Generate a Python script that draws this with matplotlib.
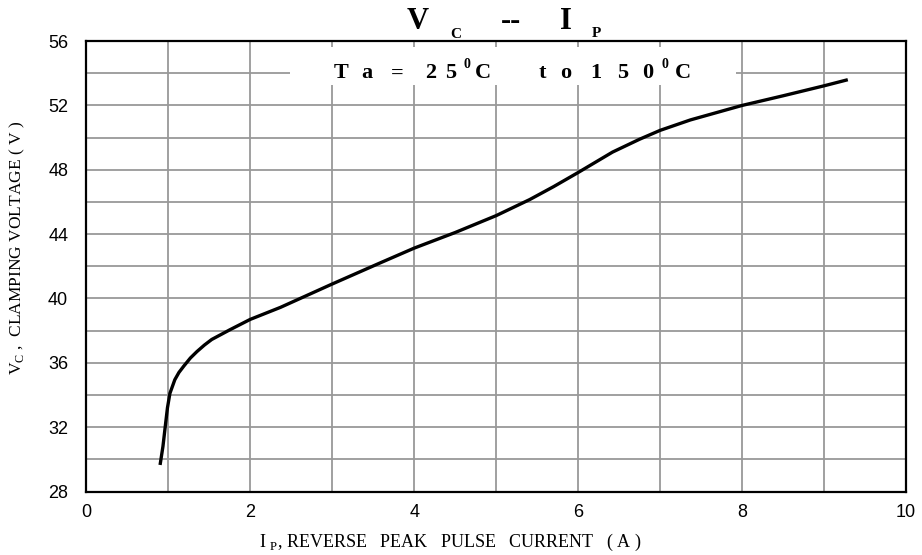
import matplotlib
matplotlib.use('Agg')
import matplotlib.pyplot as plt
from matplotlib.patches import Rectangle

# данные кривой
ip = [0.90, 0.935, 0.96, 0.99, 1.02, 1.08, 1.13, 1.19, 1.27, 1.35, 1.44, 1.53,
      1.75, 2.0, 2.37, 3.0, 3.58, 4.0, 4.5, 5.0, 5.41, 5.7, 6.0, 6.42, 6.75,
      7.0, 7.37, 8.0, 8.5, 9.0, 9.29]
vc = [29.65, 30.8, 31.9, 33.2, 34.1, 34.95, 35.4, 35.8, 36.3, 36.7, 37.1, 37.45,
      38.05, 38.7, 39.45, 40.9, 42.2, 43.13, 44.1, 45.15, 46.15, 46.95, 47.83,
      49.1, 49.9, 50.45, 51.1, 52.0, 52.6, 53.22, 53.6]

x_ticks = [0, 2, 4, 6, 8, 10]
y_ticks = [28, 32, 36, 40, 44, 48, 52, 56]
x_grid = [1, 2, 3, 4, 5, 6, 7, 8, 9]
y_grid = [30, 32, 34, 36, 38, 40, 42, 44, 46, 48, 50, 52, 54]

plt.rcParams['mathtext.fontset'] = 'custom'
plt.rcParams['mathtext.rm'] = 'Liberation Serif'
plt.rcParams['mathtext.bf'] = 'Liberation Serif:bold'

W, H = 922, 555
fig = plt.figure(figsize=(W / 100, H / 100), dpi=100)
ax = fig.add_axes([86.3 / W, 1 - 491.5 / H, (906 - 86.3) / W, (491.5 - 41.1) / H])

# сетка
for xv in x_grid:
    ax.axvline(xv, color='#999999', lw=1.3, zorder=0.5)
for yv in y_grid:
    ax.axhline(yv, color='#999999', lw=1.3, zorder=0.5)

# белая подложка под подписью
ax.add_patch(Rectangle((2.48, 53.25), 5.45, 2.38, facecolor='white',
                       edgecolor='none', zorder=1))

# кривая
ax.plot(ip, vc, color='black', lw=2.4, zorder=4,
        solid_joinstyle='round', solid_capstyle='butt')

ax.set_xlim(0, 10)
ax.set_ylim(28, 56)
ax.set_xticks(x_ticks)
ax.set_yticks(y_ticks)
ax.tick_params(length=0, labelsize=13)
ax.tick_params(axis='x', pad=9)
ax.tick_params(axis='y', pad=13)
for lab in ax.get_xticklabels() + ax.get_yticklabels():
    lab.set_family('Liberation Sans')
for s in ax.spines.values():
    s.set_linewidth(1.6)
    s.set_zorder(5)


def ftxt(x, y, s, size, bold=True):
    fig.text(x / W, 1 - y / H, s, family='Liberation Serif',
             fontweight='bold' if bold else 'normal',
             fontsize=size, ha='center', va='baseline', zorder=6)


# надпись в рамке, по буквам (разрядка как в оригинале)
box_chars = [('T', 341.5), ('a', 366.5), ('=', 397.5), ('2', 431), ('5', 451),
             ('C', 483), ('t', 542), ('o', 566), ('1', 596), ('5', 622.5),
             ('0', 647.5), ('C', 683)]
for ch, xp in box_chars:
    ftxt(xp, 78.5, ch, 16)
for xp in (466.5, 665):
    ftxt(xp, 68.5, '0', 10)

# заголовок из отдельных частей
ftxt(418, 29, 'V', 22)
ftxt(456, 38, 'C', 11)
ftxt(511, 29, '--', 22)
ftxt(566, 29, 'I', 22)
ftxt(596, 37, 'P', 11)

# подписи осей
fig.text(450 / W, 1 - 547 / H,
         r'I $_{\mathrm{P}}$, REVERSE   PEAK   PULSE   CURRENT   ( A )',
         family='Liberation Serif', fontsize=13, ha='center', va='baseline')
fig.text(17 / W, 1 - 248 / H, r'V$_{\mathrm{C}}$ ,  CLAMPING VOLTAGE ( V )',
         family='Liberation Serif', fontsize=12.5, ha='center', va='center',
         rotation=90)

fig.savefig('out.png', dpi=100)
